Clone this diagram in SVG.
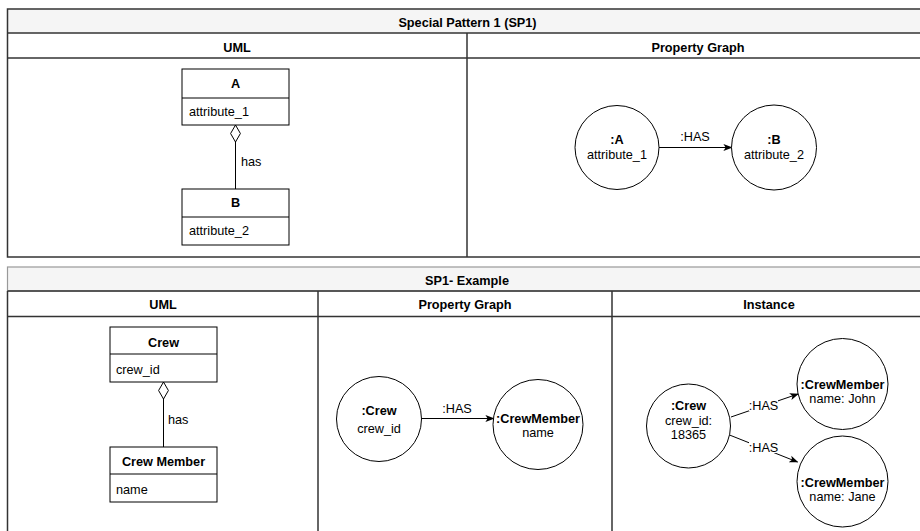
<svg xmlns="http://www.w3.org/2000/svg" width="920" height="531" viewBox="0 0 920 531">
  <style>
    text { font-family: "Liberation Sans", Arial, Helvetica, sans-serif; font-size: 12.7px; fill: #000; }
    .b { font-weight: bold; }
    .c { text-anchor: middle; }
    .band { fill: #f5f5f5; }
    .frame { fill: none; stroke: #333; stroke-width: 1.5; }
    .soft { fill: none; stroke: #999; stroke-width: 1.2; }
    .node { fill: #fff; stroke: #000; stroke-width: 1; }
    .edge { fill: none; stroke: #000; stroke-width: 1; }
    .lbl { fill: #fff; }
  </style>
  <defs>
    <marker id="arrow" viewBox="0 0 10 10" refX="9" refY="5" markerWidth="9" markerHeight="9" markerUnits="userSpaceOnUse" orient="auto">
      <path d="M0,1 L10,5 L0,9 L2.5,5 Z" fill="#000"/>
    </marker>
    <marker id="diamond" viewBox="0 0 18 11" refX="17.5" refY="5.5" markerWidth="18" markerHeight="11" markerUnits="userSpaceOnUse" orient="auto">
      <path d="M0.5,5.5 L9,0.6 L17.5,5.5 L9,10.4 Z" fill="#fff" stroke="#000" stroke-width="1"/>
    </marker>
  </defs>

  <rect width="920" height="531" fill="#fff"/>

  <!-- Section 1: Special Pattern 1 -->
  <g id="sp1-frame">
    <rect class="band" x="7.5" y="9" width="922" height="24"/>
    <rect class="frame" x="7.5" y="9" width="922" height="248"/>
    <line class="frame" x1="7.5" y1="33" x2="930" y2="33"/>
    <line class="frame" x1="7.5" y1="58" x2="930" y2="58"/>
    <line class="frame" x1="467" y1="33" x2="467" y2="257"/>
    <text class="b c" x="467.5" y="26.5">Special Pattern 1 (SP1)</text>
    <text class="b c" x="237" y="51.5">UML</text>
    <text class="b c" x="698" y="51.5">Property Graph</text>
  </g>

  <!-- Section 2: SP1 example -->
  <g id="ex-frame">
    <rect class="band" x="7.5" y="267" width="922" height="24"/>
    <rect class="soft" x="7.5" y="267" width="922" height="24"/>
    <line class="frame" x1="7.5" y1="291" x2="7.5" y2="535"/>
    <line class="frame" x1="7.5" y1="291" x2="930" y2="291"/>
    <line class="frame" x1="7.5" y1="316.5" x2="930" y2="316.5"/>
    <line class="frame" x1="318" y1="291" x2="318" y2="535"/>
    <line class="frame" x1="612" y1="291" x2="612" y2="535"/>
    <text class="b c" x="467" y="284.5">SP1- Example</text>
    <text class="b c" x="163" y="309">UML</text>
    <text class="b c" x="465" y="309">Property Graph</text>
    <text class="b c" x="769" y="309">Instance</text>
  </g>

  <!-- connectors -->
  <g id="connectors">
    <line class="edge" x1="235.5" y1="189" x2="235.5" y2="125" marker-end="url(#diamond)"/>
    <text x="241" y="166">has</text>
    <line class="edge" x1="659" y1="147.5" x2="731.5" y2="147.5" marker-end="url(#arrow)"/>
    <text class="c" x="695" y="141">:HAS</text>

    <line class="edge" x1="163.5" y1="447" x2="163.5" y2="382" marker-end="url(#diamond)"/>
    <text x="168" y="424">has</text>
    <line class="edge" x1="421.5" y1="418.5" x2="493.5" y2="418.5" marker-end="url(#arrow)"/>
    <text class="c" x="457" y="413">:HAS</text>

    <line class="edge" x1="731" y1="417" x2="798" y2="394" marker-end="url(#arrow)"/>
    <rect class="lbl" x="749" y="399" width="29" height="12"/>
    <text class="c" x="763.5" y="409.5">:HAS</text>
    <line class="edge" x1="729.5" y1="435" x2="797.5" y2="462" marker-end="url(#arrow)"/>
    <rect class="lbl" x="749" y="441" width="29" height="12"/>
    <text class="c" x="763.5" y="451.5">:HAS</text>
  </g>

  <!-- UML classes, pattern -->
  <g id="class-a">
    <rect class="node" x="182" y="69" width="107" height="56"/>
    <line class="edge" x1="182" y1="98" x2="289" y2="98"/>
    <text class="b c" x="235.5" y="88">A</text>
    <text x="189" y="115.5">attribute_1</text>
  </g>
  <g id="class-b">
    <rect class="node" x="182" y="189" width="107" height="56"/>
    <line class="edge" x1="182" y1="217" x2="289" y2="217"/>
    <text class="b c" x="235.5" y="207">B</text>
    <text x="189" y="235">attribute_2</text>
  </g>

  <!-- property graph, pattern -->
  <g id="pg-a">
    <circle class="node" cx="617" cy="147.5" r="42"/>
    <text class="b c" x="617" y="143.5">:A</text>
    <text class="c" x="617" y="158.5">attribute_1</text>
  </g>
  <g id="pg-b">
    <circle class="node" cx="774" cy="147.5" r="42.5"/>
    <text class="b c" x="774" y="143.5">:B</text>
    <text class="c" x="774" y="158.5">attribute_2</text>
  </g>

  <!-- UML classes, example -->
  <g id="class-crew">
    <rect class="node" x="110" y="327" width="107" height="55"/>
    <line class="edge" x1="110" y1="354" x2="217" y2="354"/>
    <text class="b c" x="163.5" y="346.5">Crew</text>
    <text x="116" y="373.5">crew_id</text>
  </g>
  <g id="class-crew-member">
    <rect class="node" x="110" y="447" width="107" height="55"/>
    <line class="edge" x1="110" y1="474" x2="217" y2="474"/>
    <text class="b c" x="163.5" y="465.5">Crew Member</text>
    <text x="116" y="493.5">name</text>
  </g>

  <!-- property graph, example -->
  <g id="pg-crew">
    <circle class="node" cx="379" cy="419" r="42.5"/>
    <text class="b c" x="379" y="414.5">:Crew</text>
    <text class="c" x="379" y="432.5">crew_id</text>
  </g>
  <g id="pg-crew-member">
    <circle class="node" cx="538" cy="424.5" r="45"/>
    <text class="b c" x="538" y="422.5">:CrewMember</text>
    <text class="c" x="538" y="436.5">name</text>
  </g>

  <!-- instance -->
  <g id="inst-crew">
    <circle class="node" cx="688.5" cy="426" r="42"/>
    <text class="b c" x="688.5" y="409.5">:Crew</text>
    <text class="c" x="688.5" y="424.5">crew_id:</text>
    <text class="c" x="688.5" y="438.5">18365</text>
  </g>
  <g id="inst-john">
    <circle class="node" cx="842.5" cy="384" r="45.5"/>
    <text class="b c" x="842.5" y="388.5">:CrewMember</text>
    <text class="c" x="842.5" y="402.5">name: John</text>
  </g>
  <g id="inst-jane">
    <circle class="node" cx="842.5" cy="481.5" r="45.5"/>
    <text class="b c" x="842.5" y="486.5">:CrewMember</text>
    <text class="c" x="842.5" y="500.5">name: Jane</text>
  </g>
</svg>
